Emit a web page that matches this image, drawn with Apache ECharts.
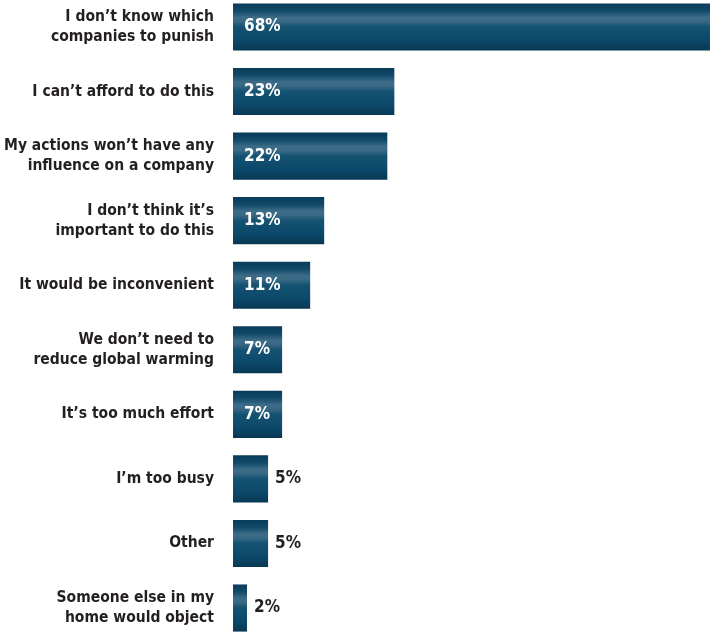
<!DOCTYPE html>
<html><head><meta charset="utf-8">
<script src="https://cdn.jsdelivr.net/npm/echarts@6/dist/echarts.min.js"></script>
<style>html,body{margin:0;padding:0;background:#fff}#c{width:712px;height:635px}</style>
</head><body><div id="c"></div>
<script>
const categories = [
  "I don’t know which\ncompanies to punish",
  "I can’t afford to do this",
  "My actions won’t have any\ninfluence on a company",
  "I don’t think it’s\nimportant to do this",
  "It would be inconvenient",
  "We don’t need to\nreduce global warming",
  "It’s too much effort",
  "I’m too busy",
  "Other",
  "Someone else in my\nhome would object"
];
const values = [68, 23, 22, 13, 11, 7, 7, 5, 5, 2];
const insideThreshold = 7;

const FONT = '"DejaVu Sans Condensed","Liberation Sans Narrow",sans-serif';
const barColor = {
  type: 'linear', x: 0, y: 0, x2: 0, y2: 1,
  colorStops: [
    {offset: 0, color: '#093b58'},
    {offset: 0.16, color: '#124a6a'},
    {offset: 0.3, color: '#3d6c88'},
    {offset: 0.38, color: '#3a6984'},
    {offset: 0.5, color: '#145272'},
    {offset: 0.78, color: '#0c486a'},
    {offset: 1, color: '#083853'}
  ]
};
const chart = echarts.init(document.getElementById('c'));
chart.setOption({
  animation: false,
  grid: {left: 233, right: 2, top: -5.3, bottom: -5.3, containLabel: false, outerBoundsMode: 'none'},
  xAxis: {type: 'value', min: 0, max: 68, show: false},
  yAxis: {
    type: 'category', inverse: true, data: categories,
    axisLine: {show: false}, axisTick: {show: false},
    axisLabel: {margin: 19, fontFamily: FONT, fontWeight: 'bold', fontSize: 15.5, color: '#231f20', lineHeight: 20, align: 'right'}
  },
  series: [{
    type: 'bar', barCategoryGap: '27%',
    data: values.map(v => ({
      value: v,
      label: v >= insideThreshold
        ? {position: 'insideLeft', distance: 11, color: '#ffffff'}
        : {position: 'right', distance: 7, color: '#231f20'}
    })),
    itemStyle: {color: barColor},
    label: {show: true, formatter: '{c}%', fontFamily: FONT, fontWeight: 'bold', fontSize: 17}
  }]
});
</script></body></html>
